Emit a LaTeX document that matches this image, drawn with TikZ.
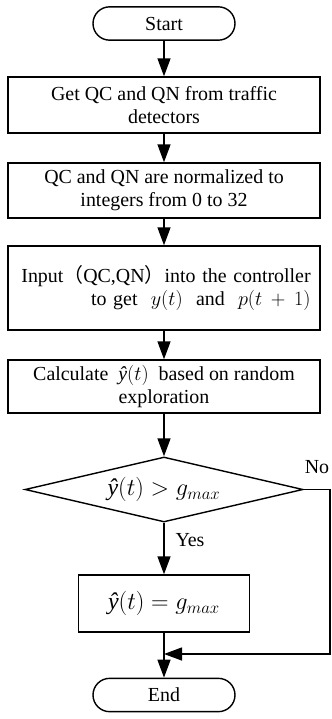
\documentclass[tikz,border=0pt]{standalone}
\usepackage{fontspec}
\setmainfont{Liberation Serif}
\newfontfamily\cjk{Noto Sans CJK SC}
\usetikzlibrary{arrows.meta,shapes.geometric}

\tikzset{
  procbox/.style = {draw, line width=1.2pt, minimum width=9.36cm, align=center, inner sep=0pt},
  termbox/.style = {draw, line width=1.2pt, rounded corners=0.5cm, minimum width=4.26cm, minimum height=1cm},
  flow/.style = {line width=1.2pt, -{Triangle[width=0.39cm,length=0.54cm]}},
  bigmath/.style = {font=\fontsize{20.5}{24}\selectfont},
}
\newcommand{\yhat}{\textit{ŷ}}

\begin{document}
\begin{tikzpicture}[x=0.03cm, y=-0.03cm, font=\fontsize{17}{20}\selectfont]
\useasboundingbox (0,0) rectangle (331,719);

\node[termbox] (start) at (164,23.5) {Start};
\node[procbox, minimum height=1.68cm] (get) at (164,105) {Get QC and QN from traffic\\detectors};
\node[procbox, minimum height=1.65cm] (norm) at (164,190.5) {QC and QN are normalized to\\integers from 0 to 32};
\node[procbox, minimum height=2.52cm, text width=8.8cm, align=right] (ctrl) at (164,288)
  {Input{\cjk （}QC,QN{\cjk ）}into the controller\\to get \ $y(t)$ \ and \ $p(t+1)$};
\node[procbox, minimum height=1.59cm] (calc) at (164,386.5) {Calculate \ $\yhat(t)$ \ based on random\\exploration};
\node[draw, diamond, aspect=4.3, line width=1.2pt, inner sep=0pt, minimum width=8.34cm, minimum height=1.95cm, bigmath] (check) at (164,489.5) {$\yhat(t) > g_{max}$};
\node[procbox, minimum width=5.13cm, minimum height=1.71cm, bigmath] (set) at (164,603.5) {$\yhat(t) = g_{max}$};
\node[termbox] (end) at (164,695) {End};

\coordinate (rt) at (330,489.5);
\coordinate (mj) at (164,654);

\draw[flow] (start) -- (get);
\draw[flow] (get) -- (norm);
\draw[flow] (norm) -- (ctrl);
\draw[flow] (ctrl) -- (calc);
\draw[flow] (calc) -- (check);
\draw[flow] (check) -- (set);
\draw[flow] (set) -- (end);
\draw[flow] (check.east) -- (rt) |- (mj);

\node (yes) at (190,540) {Yes};
\node (no) at (317,467) {No};

\end{tikzpicture}
\end{document}
